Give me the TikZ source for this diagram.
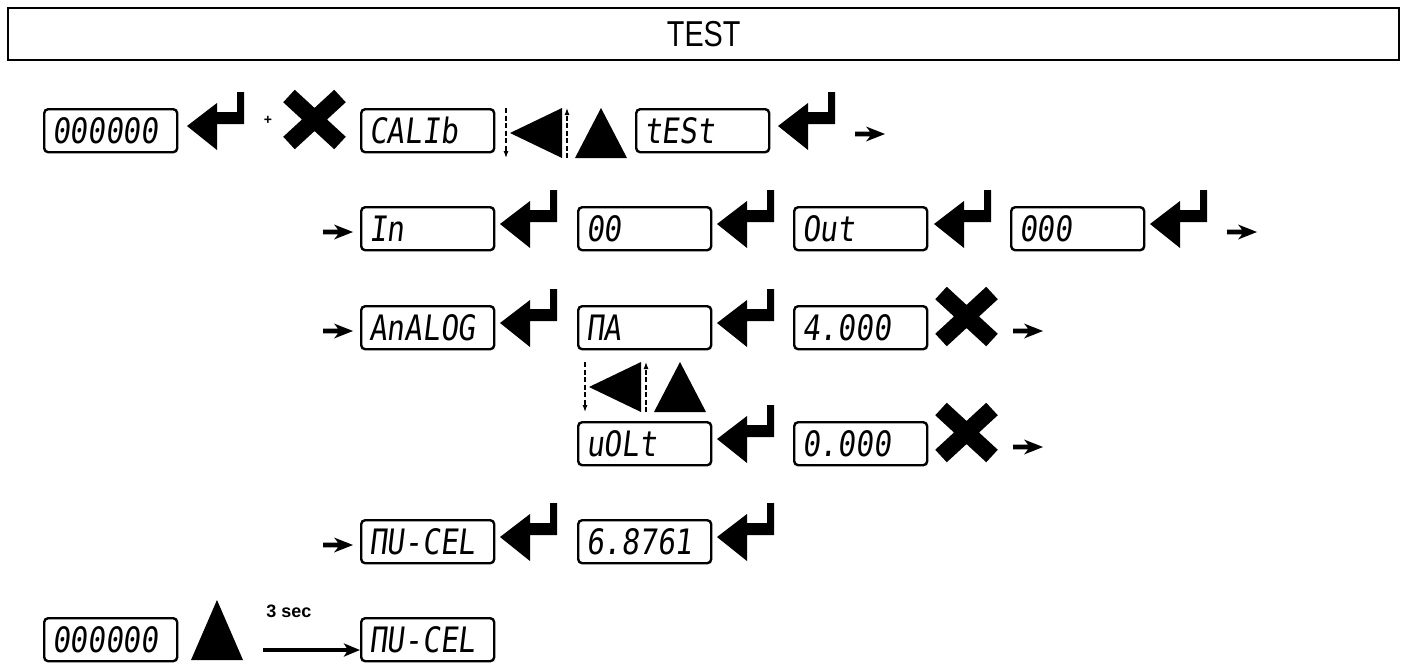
\documentclass[tikz,border=0pt]{standalone}
\usepackage{fontspec}
\setmainfont{Liberation Sans}
\newfontfamily\lcdfont[FakeSlant=0.12,FakeStretch=0.84]{DejaVu Sans Mono}
\newfontfamily\titlefont[FakeStretch=0.8]{Liberation Sans}
\usetikzlibrary{arrows.meta}
\tikzset{
  lcd/.style={draw, line width=2.4pt, rounded corners=4pt, minimum width=133pt,
    minimum height=43pt, inner xsep=8pt, inner ysep=0pt, text width=117pt,
    align=left, text height=26pt, text depth=0pt, anchor=north west,
    font=\lcdfont\fontsize{35pt}{35pt}\selectfont},
  enterkey/.pic={\fill (50,0) -- (57,0) -- (57,32) -- (30,32) -- (30,58) -- (0,34)
    -- (30,11) -- (30,20) -- (50,20) -- cycle;},
  xmark/.pic={\draw[line width=17pt] (6,6) -- (57,53) (6,53) -- (57,6);},
  smallarrow/.pic={\fill (0,-2.4) -- (15,-2.4) -- (11,-7.5) -- (30,0) -- (11,7.5)
    -- (15,2.4) -- (0,2.4) -- cycle;},
  dasharrow/.style={line width=1.1pt, dash pattern=on 5pt off 2.5pt,
    -{Latex[length=7pt,width=5pt]}},
  navkeys/.pic={
    \coordinate (-dt) at (0,0); \coordinate (-db) at (0,50);
    \coordinate (-ut) at (61,0); \coordinate (-ub) at (61,50);
    \draw[dasharrow] (-dt) -- (-db);
    \draw[dasharrow] (-ub) -- (-ut);
    \fill (56,0) -- (56,50) -- (4,25) -- cycle;
    \fill (95,0) -- (121,50) -- (69,50) -- cycle;}
}
\begin{document}
\begin{tikzpicture}[x=1pt,y=-1pt]
\useasboundingbox (0,0) rectangle (1404,664);
% title
\node[draw, line width=2.4pt, minimum width=1391pt, minimum height=52pt,
  anchor=north west, inner sep=0pt, font=\titlefont\fontsize{36pt}{36pt}\selectfont]
  (title) at (7,7) {TEST};
% row 1
\node[lcd] (r1a) at (43,108) {000000};
\pic (e1a) at (187,92) {enterkey};
\node[font=\bfseries\fontsize{14pt}{14pt}\selectfont, inner sep=0pt] (plus) at (268,120) {+};
\pic (x1) at (283,90) {xmark};
\node[lcd] (r1b) at (360,108) {CALIb};
\pic (nav1) at (506,108) {navkeys};
\node[lcd] (r1c) at (635,108) {tESt};
\pic (e1b) at (778,92) {enterkey};
\pic (a1) at (855,134) {smallarrow};
% row 2
\pic (a2a) at (323,232) {smallarrow};
\node[lcd] (r2a) at (360,206) {In};
\pic (e2a) at (500,190) {enterkey};
\node[lcd] (r2b) at (577,206) {00};
\pic (e2b) at (717,190) {enterkey};
\node[lcd] (r2c) at (793,206) {Out};
\pic (e2c) at (934,190) {enterkey};
\node[lcd] (r2d) at (1010,206) {000};
\pic (e2d) at (1150,190) {enterkey};
\pic (a2b) at (1227,232) {smallarrow};
% row 3
\pic (a3a) at (323,331) {smallarrow};
\node[lcd] (r3a) at (360,305) {AnALOG};
\pic (e3a) at (500,289) {enterkey};
\node[lcd] (r3b) at (577,305) {ΠA};
\pic (e3b) at (717,289) {enterkey};
\node[lcd] (r3c) at (793,305) {4.000};
\pic (x3) at (935,287) {xmark};
\pic (a3b) at (1013,331) {smallarrow};
% nav keys between mA and vOLt
\pic (nav2) at (585,362) {navkeys};
% row 4
\node[lcd] (r4a) at (577,421) {uOLt};
\pic (e4a) at (717,405) {enterkey};
\node[lcd] (r4b) at (793,421) {0.000};
\pic (x4) at (935,403) {xmark};
\pic (a4) at (1013,447) {smallarrow};
% row 5
\pic (a5) at (323,545) {smallarrow};
\node[lcd] (r5a) at (360,519) {ΠU-CEL};
\pic (e5a) at (500,503) {enterkey};
\node[lcd] (r5b) at (577,519) {6.8761};
\pic (e5b) at (717,503) {enterkey};
% row 6
\node[lcd] (r6a) at (43,617) {000000};
\fill (217,600) -- (243,660) -- (191,660) -- cycle;
\node[font=\bfseries\fontsize{18pt}{18pt}\selectfont, inner sep=0pt] (sec) at (289,611) {3 sec};
\node[lcd] (r6b) at (360,617) {ΠU-CEL};
\coordinate (hs) at (263,650);
\draw[line width=3.2pt, -{Stealth[length=16pt,width=13pt,inset=4pt]}] (hs) -- (hs -| r6b.west);
\end{tikzpicture}
\end{document}
